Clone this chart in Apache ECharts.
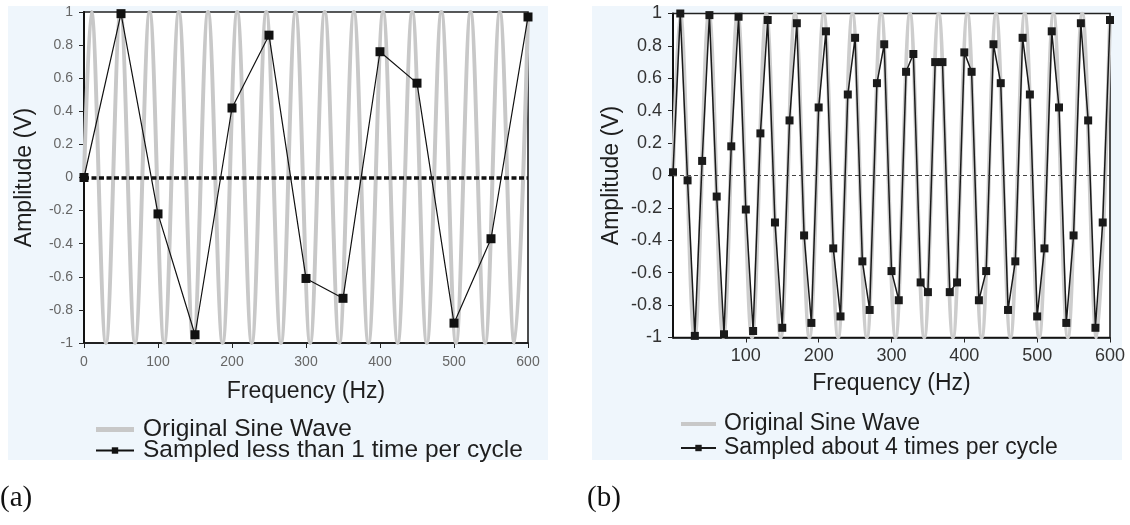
<!DOCTYPE html>
<html><head><meta charset="utf-8">
<script src="https://cdn.jsdelivr.net/npm/echarts@6/dist/echarts.min.js"></script>
<style>html,body{margin:0;padding:0;background:#fff}#c{width:1130px;height:525px}</style>
</head><body><div id="c"></div>
<script>
// Original sine wave: positions (Hz) of its start, peaks/troughs and end
const sineX = [0, 9.9, 29.6, 49.3, 69.0, 88.7, 108.4, 128.1, 147.9, 167.6, 187.3, 207.0, 226.7, 246.4, 266.2,
  285.9, 305.6, 325.3, 345.0, 364.7, 384.4, 404.2, 423.9, 443.6, 463.3, 483.0, 502.7, 522.4, 542.1, 561.9, 581.6, 600];
const sineY = [0, 1, -1, 1, -1, 1, -1, 1, -1, 1, -1, 1, -1, 1, -1,
  1, -1, 1, -1, 1, -1, 1, -1, 1, -1, 1, -1, 1, -1, 1, -1, 0.98];

// (a) sampled less than 1 time per cycle
const sampleAX = [0, 50, 100, 150, 200, 250, 300, 350, 400, 450, 500, 550, 600];
const sampleAY = [0, 0.99, -0.22, -0.95, 0.42, 0.86, -0.61, -0.73, 0.76, 0.57, -0.88, -0.37, 0.97];

// (b) sampled about 4 times per cycle
const sampleBX = [0, 10, 20, 30, 40, 50, 60, 70, 80, 90, 100, 110, 120, 130, 140, 150, 160, 170, 180, 190,
  200, 210, 220, 230, 240, 250, 260, 270, 280, 290, 300, 310, 320, 330, 340, 350, 360, 370, 380, 390,
  400, 410, 420, 430, 440, 450, 460, 470, 480, 490, 500, 510, 520, 530, 540, 550, 560, 570, 580, 590, 600];
const sampleBY = [0.02, 1.00, -0.03, -0.99, 0.09, 0.99, -0.13, -0.98, 0.18, 0.98, -0.21, -0.96, 0.26, 0.96, -0.29, -0.94, 0.34, 0.94, -0.37, -0.91,
  0.42, 0.89, -0.45, -0.87, 0.50, 0.85, -0.53, -0.83, 0.57, 0.81, -0.59, -0.77, 0.64, 0.75, -0.66, -0.72, 0.70, 0.70, -0.72, -0.66,
  0.76, 0.64, -0.77, -0.59, 0.81, 0.57, -0.83, -0.53, 0.85, 0.50, -0.87, -0.45, 0.89, 0.42, -0.91, -0.37, 0.94, 0.34, -0.94, -0.29, 0.96];

const nameSine = 'Original Sine Wave';
const nameA = 'Sampled less than 1 time per cycle';
const nameB = 'Sampled about 4 times per cycle';
const xTitle = 'Frequency (Hz)';
const yTitle = 'Amplitude (V)';
const panelLabels = ['(a)', '(b)'];

const pairs = (xs, ys) => xs.map((x, i) => [x, ys[i]]);
const fmtY = v => String(Math.round(v * 10) / 10);
const SANS = '"Liberation Sans", Arial, sans-serif';

function xAxis(gi, fs, col, gap, showMin) {
  return {
    type: 'value', gridIndex: gi, min: 0, max: 600, interval: 100,
    name: xTitle, nameLocation: 'middle', nameGap: gap,
    nameTextStyle: { fontSize: 23, color: '#1e1e1e', fontFamily: SANS },
    axisLine: { show: true, onZero: false, lineStyle: { color: '#111', width: 1.6 } },
    axisTick: { show: true, length: 5, lineStyle: { color: '#222', width: 1 } },
    axisLabel: { fontSize: fs, color: col, fontFamily: SANS, margin: gi === 0 ? 12 : 10, showMinLabel: showMin },
    splitLine: { show: false }
  };
}
function yAxis(gi, fs, col, gap) {
  return {
    type: 'value', gridIndex: gi, min: -1, max: 1, interval: 0.2,
    name: yTitle, nameLocation: 'middle', nameGap: gap,
    nameTextStyle: { fontSize: 23, color: '#1e1e1e', fontFamily: SANS },
    axisLine: { show: true, onZero: false, lineStyle: { color: '#111', width: 2 } },
    axisTick: { show: true, length: 5, lineStyle: { color: '#222', width: 1 } },
    axisLabel: { fontSize: fs, color: col, fontFamily: SANS, margin: 11, formatter: fmtY },
    splitLine: { show: false }
  };
}

const chart = echarts.init(document.getElementById('c'), null, { renderer: 'canvas' });
chart.setOption({
  animation: false,
  backgroundColor: '#ffffff',
  graphic: [
    { type: 'rect', z: -10, shape: { x: 8, y: 6, width: 540, height: 454 }, style: { fill: '#eff6fc' } },
    { type: 'rect', z: -10, shape: { x: 592, y: 6, width: 530, height: 454 }, style: { fill: '#eff6fc' } },
    { type: 'text', left: 0, top: 484, style: { text: panelLabels[0], font: '29px "Liberation Serif", serif', fill: '#111' } },
    { type: 'text', left: 587, top: 484, style: { text: panelLabels[1], font: '29px "Liberation Serif", serif', fill: '#111' } }
  ],
  grid: [
    { left: 84, top: 12, width: 444, height: 331, show: true, backgroundColor: '#fff', borderColor: '#222', borderWidth: 1.6 },
    { left: 673, top: 13.5, width: 437, height: 324, show: true, backgroundColor: '#fff', borderColor: '#222', borderWidth: 1.6 }
  ],
  xAxis: [xAxis(0, 14, '#666', 37, true), xAxis(1, 18, '#333', 35, false)],
  yAxis: [yAxis(0, 14, '#666', 48), yAxis(1, 18, '#333', 50)],
  legend: [
    {
      data: [{ name: nameSine, icon: 'path://M0,0L38,0L38,5L0,5Z' }, nameA],
      orient: 'vertical', left: 90, top: 412,
      itemWidth: 38, itemHeight: 8, itemGap: -4, symbolKeepAspect: true,
      textStyle: { fontSize: 24.5, color: '#1e1e1e', fontFamily: SANS, lineHeight: 22, padding: [0, 0, 0, 4] }
    },
    {
      data: [{ name: nameSine, icon: 'path://M0,0L35,0L35,4L0,4Z' }, nameB],
      orient: 'vertical', left: 675, top: 407,
      itemWidth: 35, itemHeight: 8, itemGap: 0, symbolKeepAspect: true,
      textStyle: { fontSize: 23, color: '#1e1e1e', fontFamily: SANS, lineHeight: 24, padding: [0, 0, 0, 3] }
    }
  ],
  series: [
    {
      name: nameSine, type: 'line', xAxisIndex: 0, yAxisIndex: 0, z: 1,
      data: pairs(sineX, sineY), smooth: 0.36, showSymbol: false, symbol: 'none',
      lineStyle: { color: '#c8c8c8', width: 4 }, itemStyle: { color: '#c8c8c8' },
      markLine: {
        silent: true, symbol: ['none', 'none'], label: { show: false },
        lineStyle: { color: '#111', width: 3.5, type: [5, 2.5] },
        data: [{ yAxis: 0 }]
      }
    },
    {
      name: nameA, type: 'line', xAxisIndex: 0, yAxisIndex: 0, z: 3,
      data: pairs(sampleAX, sampleAY), symbol: 'rect', symbolSize: 9,
      lineStyle: { color: '#111', width: 1.2 }, itemStyle: { color: '#111' }
    },
    {
      name: nameSine, type: 'line', xAxisIndex: 1, yAxisIndex: 1, z: 1,
      data: pairs(sineX, sineY), smooth: 0.36, showSymbol: false, symbol: 'none',
      lineStyle: { color: '#cdcdcd', width: 4 }, itemStyle: { color: '#cdcdcd' },
      markLine: {
        silent: true, symbol: ['none', 'none'], label: { show: false },
        lineStyle: { color: '#444', width: 1, type: [4, 3] },
        data: [{ yAxis: 0 }]
      }
    },
    {
      name: nameB, type: 'line', xAxisIndex: 1, yAxisIndex: 1, z: 3,
      data: pairs(sampleBX, sampleBY), symbol: 'rect', symbolSize: 8,
      lineStyle: { color: '#1a1a1a', width: 1.5 }, itemStyle: { color: '#1a1a1a' }
    }
  ]
});
</script>
</body></html>
